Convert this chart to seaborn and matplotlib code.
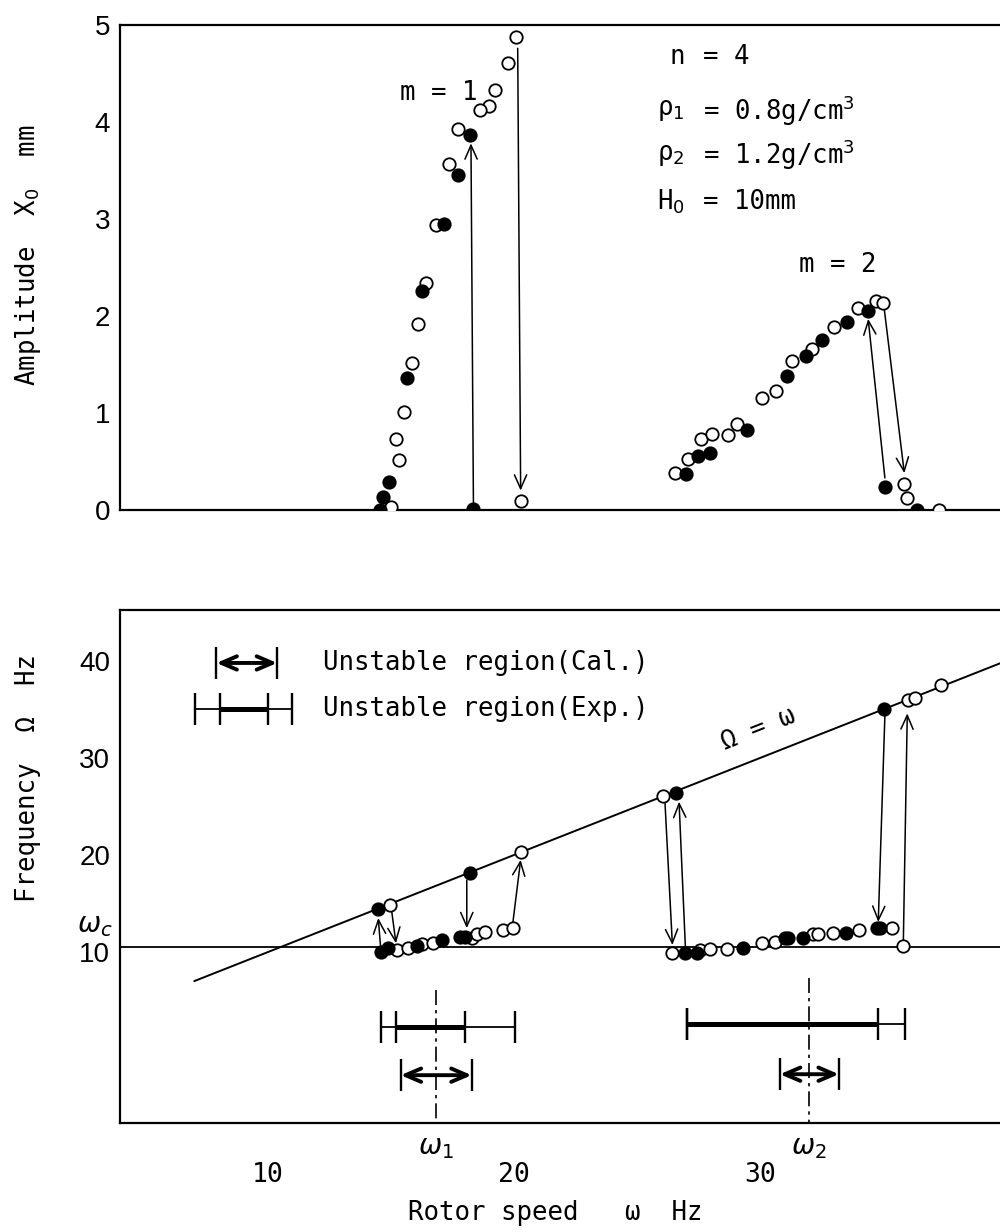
import numpy as np
import pandas as pd
import matplotlib
matplotlib.use("Agg")
import matplotlib.pyplot as plt
import seaborn as sns

# ---------------- data ----------------
# Top panel: amplitude X0 (mm) vs rotor speed (Hz)
amp_open_w = [20.1, 19.77, 19.24, 19.0, 18.6, 17.74, 17.37, 16.82, 16.42, 16.08, 15.84, 15.53,
              15.19, 15.34, 14.99, 20.28,
              26.54, 27.09, 27.59, 28.07, 28.71, 29.08, 30.09, 30.65, 31.31, 32.13, 33.02, 33.97,
              34.70, 35.01, 35.85, 35.99, 37.3]
amp_open_a = [4.88, 4.61, 4.33, 4.16, 4.12, 3.93, 3.57, 2.94, 2.34, 1.92, 1.52, 1.01,
              0.73, 0.52, 0.03, 0.09,
              0.38, 0.53, 0.73, 0.78, 0.77, 0.89, 1.15, 1.23, 1.54, 1.66, 1.89, 2.08,
              2.15, 2.13, 0.27, 0.12, 0.0]
amp_fill_w = [18.2, 17.74, 17.17, 16.25, 15.64, 14.93, 14.66, 14.55, 18.35,
              27.0, 27.5, 27.97, 29.46, 31.11, 31.86, 32.53, 33.52, 34.38, 35.08, 36.4]
amp_fill_a = [3.87, 3.45, 2.95, 2.26, 1.36, 0.29, 0.13, 0.0, 0.01,
              0.37, 0.56, 0.59, 0.82, 1.38, 1.59, 1.75, 1.94, 2.05, 0.24, 0.0]
# jump arrows (start w, start a, end w, end a)
amp_arrows = [(18.35, 0.06, 18.25, 3.78), (20.15, 4.76, 20.27, 0.20),
              (35.08, 0.33, 34.40, 1.97), (35.05, 2.08, 35.87, 0.38)]

# Bottom panel: frequency Omega (Hz) vs rotor speed (Hz)
frq_open_w = [14.96, 20.27, 26.04, 36.02, 36.3, 37.36,
              15.23, 15.7, 16.24, 16.72, 18.28, 18.48, 18.82, 19.57, 19.95,
              26.44, 27.56, 27.97, 28.67, 30.07, 30.61, 32.17, 32.37, 32.98, 34.04, 35.35, 35.8]
frq_open_f = [14.85, 20.28, 26.08, 35.98, 36.2, 37.5,
              10.2, 10.45, 10.8, 10.96, 11.4, 11.9, 12.1, 12.3, 12.5,
              9.87, 10.2, 10.27, 10.27, 10.96, 11.06, 11.86, 11.86, 11.93, 12.27, 12.44, 10.6]
frq_fill_w = [14.48, 18.21, 26.59, 35.05,
              14.58, 14.89, 16.07, 17.06, 17.8, 18.0, 26.95, 27.43, 29.32, 31.02, 31.15, 31.76,
              33.5, 34.74, 34.88]
frq_fill_f = [14.4, 18.17, 26.42, 35.1,
              9.97, 10.38, 10.6, 11.2, 11.5, 11.5, 9.87, 9.87, 10.38, 11.48, 11.48, 11.48,
              11.99, 12.44, 12.44]
frq_arrows = [(14.58, 10.38, 14.48, 13.5), (15.03, 14.15, 15.2, 10.9),
              (18.08, 17.4, 18.08, 12.45), (19.95, 12.96, 20.27, 19.5),
              (26.14, 25.33, 26.44, 10.72), (26.97, 10.38, 26.71, 25.5),
              (35.08, 34.4, 34.81, 13.1), (35.83, 11.06, 35.99, 34.6)]
omega_c = 10.5
diag_w = [7.0, 39.8]
omega_marks = [16.83, 32.0]
omega_mark_top = [6.1, 7.3]
omega_mark_labels = [r"$\omega_1$", r"$\omega_2$"]

# unstable regions
exp_outer = [(14.59, 20.04), (27.02, 35.89)]
exp_inner = [(15.19, 18.01), (27.02, 34.78)]
exp_level = [2.3, 2.58]
cal_range = [(15.39, 18.28), (30.81, 33.21)]
cal_level = [-2.7, -2.6]

# legend
leg_cal = (7.9, 10.37, 39.8)
leg_exp_outer = (7.03, 10.98)
leg_exp_inner = (8.05, 10.0)
leg_exp_level = 35.05
leg_labels = ["Unstable region(Cal.)", "Unstable region(Exp.)"]

# ---------------- style ----------------
sns.set_style("white")
plt.rcParams['font.family'] = ['DejaVu Sans Mono', 'DejaVu Sans']
plt.rcParams['mathtext.fontset'] = 'dejavusans'
for k in ('text.color', 'axes.labelcolor', 'xtick.color', 'ytick.color'):
    plt.rcParams[k] = 'black'
MONO = 'DejaVu Sans Mono'
SANS = 'Liberation Sans'
FS = 18.5
W, H = 1000, 1232

fig = plt.figure(figsize=(W / 100, H / 100), dpi=100)
ax1 = fig.add_axes([120 / W, 1 - 510 / H, 880 / W, (510 - 25) / H])
ax2 = fig.add_axes([120 / W, 1 - 1123 / H, 880 / W, (1123 - 610) / H])

XL = (3.98, 39.76)


def points(ax, w, v, filled):
    df = pd.DataFrame({'w': w, 'v': v})
    sns.scatterplot(data=df, x='w', y='v', ax=ax,
                    color='black' if filled else 'white', edgecolor='black',
                    s=80, linewidth=1.3, zorder=6, legend=False)


def arrow(ax, x0, y0, x1, y1):
    ax.annotate('', xy=(x1, y1), xytext=(x0, y0),
                arrowprops=dict(arrowstyle='->,head_length=0.5,head_width=0.22',
                                lw=1.1, color='black', shrinkA=0, shrinkB=0,
                                mutation_scale=20), zorder=4)


for ax in (ax1, ax2):
    ax.set_xlim(*XL)
    ax.spines['right'].set_visible(False)
    for s in ('left', 'top', 'bottom'):
        ax.spines[s].set_linewidth(1.6)
        ax.spines[s].set_color('black')
    ax.set_xticks([10, 20, 30])
    ax.tick_params(axis='both', direction='in', length=10, width=1.3, color='black')

# ---------- top panel ----------
ax1.set_ylim(0, 5.0)
ax1.set_yticks([0, 1, 2, 3, 4, 5])
ax1.set_yticklabels(['0', '1', '2', '3', '4', '5'], fontfamily=SANS, fontsize=20)
ax1.tick_params(axis='y', pad=7)
ax1.set_xticklabels([])
points(ax1, amp_open_w, amp_open_a, False)
points(ax1, amp_fill_w, amp_fill_a, True)
for a in amp_arrows:
    arrow(ax1, *a)
ax1.text(16.93, 4.3, "m = 1", ha='center', va='center', fontsize=FS, fontfamily=MONO)
ax1.text(33.17, 2.53, "m = 2", ha='center', va='center', fontsize=FS, fontfamily=MONO)
lefts = ["n", "ρ$_1$", "ρ$_2$", "H$_0$"]
rights = ["= 4", r"= 0.8g/cm$^3$", r"= 1.2g/cm$^3$", "= 10mm"]
levels = [4.67, 4.12, 3.66, 3.18]
for l, r, yv in zip(lefts, rights, levels):
    ax1.text(26.95, yv, l, ha='right', va='center', fontsize=FS, fontfamily=MONO)
    ax1.text(27.68, yv, r, ha='left', va='center', fontsize=FS, fontfamily=MONO)

# ---------- bottom panel ----------
YL = (-7.63, 45.26)
ax2.set_ylim(*YL)
ax2.set_yticks([10, 20, 30, 40])
ax2.set_yticklabels(['10', '20', '30', '40'], fontfamily=SANS, fontsize=20)
ax2.tick_params(axis='y', pad=7)
ax2.set_xticklabels(['10', '20', '30'], fontfamily=MONO, fontsize=19)
ax2.tick_params(axis='x', pad=28)

ax2.axhline(omega_c, color='black', lw=1.3, zorder=2)
sns.lineplot(x=diag_w, y=diag_w, ax=ax2, color='black', lw=1.4, zorder=2)

points(ax2, frq_open_w, frq_open_f, False)
points(ax2, frq_fill_w, frq_fill_f, True)
for a in frq_arrows:
    arrow(ax2, *a)

# Omega = omega label along the line
p0 = ax2.transData.transform((20, 20))
p1 = ax2.transData.transform((30, 30))
ang = np.degrees(np.arctan2(p1[1] - p0[1], p1[0] - p0[0]))
ax2.text(29.93, 32.96, "Ω = ω", rotation=ang, rotation_mode='anchor', ha='center', va='center',
         fontsize=FS, fontfamily=MONO)

barh = 1.65
for (ol, orr), (il, ir), lv in zip(exp_outer, exp_inner, exp_level):
    ax2.hlines(lv, ol, orr, color='black', lw=1.3)
    ax2.hlines(lv, il, ir, color='black', lw=3.6)
    ax2.vlines([ol, il, ir, orr], lv - barh, lv + barh, color='black', lw=1.7)
for (cl, cr), lv in zip(cal_range, cal_level):
    ax2.vlines([cl, cr], lv - barh, lv + barh, color='black', lw=1.7)
    ax2.annotate('', xy=(cr, lv), xytext=(cl, lv),
                 arrowprops=dict(arrowstyle='<->,head_length=0.7,head_width=0.3', lw=2.8,
                                 color='black', shrinkA=0, shrinkB=0, mutation_scale=16))

for wm, top, lab in zip(omega_marks, omega_mark_top, omega_mark_labels):
    ax2.plot([wm, wm], [top, YL[0]], color='black', lw=1.2, linestyle=(0, (9, 3, 2, 3)))
    ax2.annotate(lab, xy=(wm, 0), xycoords=('data', 'axes fraction'), xytext=(0, -17),
                 textcoords='offset points', ha='center', va='center', fontsize=20)

# legend
cl, cr, cy = leg_cal
ax2.vlines([cl, cr], cy - barh, cy + barh, color='black', lw=1.7)
ax2.annotate('', xy=(cr, cy), xytext=(cl, cy),
             arrowprops=dict(arrowstyle='<->,head_length=0.7,head_width=0.3', lw=2.8,
                             color='black', shrinkA=0, shrinkB=0, mutation_scale=16))
ey = leg_exp_level
ax2.hlines(ey, *leg_exp_outer, color='black', lw=1.3)
ax2.hlines(ey, *leg_exp_inner, color='black', lw=3.6)
ax2.vlines(list(leg_exp_outer) + list(leg_exp_inner), ey - barh, ey + barh, color='black', lw=1.7)
ax2.text(12.24, cy, leg_labels[0], ha='left', va='center', fontsize=FS, fontfamily=MONO)
ax2.text(12.24, ey, leg_labels[1], ha='left', va='center', fontsize=FS, fontfamily=MONO)

# remove seaborn's automatic axis labels
for ax in (ax1, ax2):
    ax.set_xlabel('')
    ax.set_ylabel('')

# omega_c label
fig.text(95 / W, 1 - 925 / H, r"$\omega_c$", ha='center', va='center', fontsize=20)

# axis titles
fig.text(28 / W, 1 - 255 / H, r"Amplitude  X$_0$  mm", rotation=90, ha='center', va='center',
         fontsize=FS, fontfamily=MONO)
fig.text(28 / W, 1 - 778 / H, "Frequency  Ω  Hz", rotation=90, ha='center', va='center',
         fontsize=FS, fontfamily=MONO)
fig.text(555 / W, 1 - 1213 / H, "Rotor speed   ω  Hz", ha='center', va='center',
         fontsize=FS, fontfamily=MONO)

fig.savefig("out.png", dpi=100, facecolor='white')
